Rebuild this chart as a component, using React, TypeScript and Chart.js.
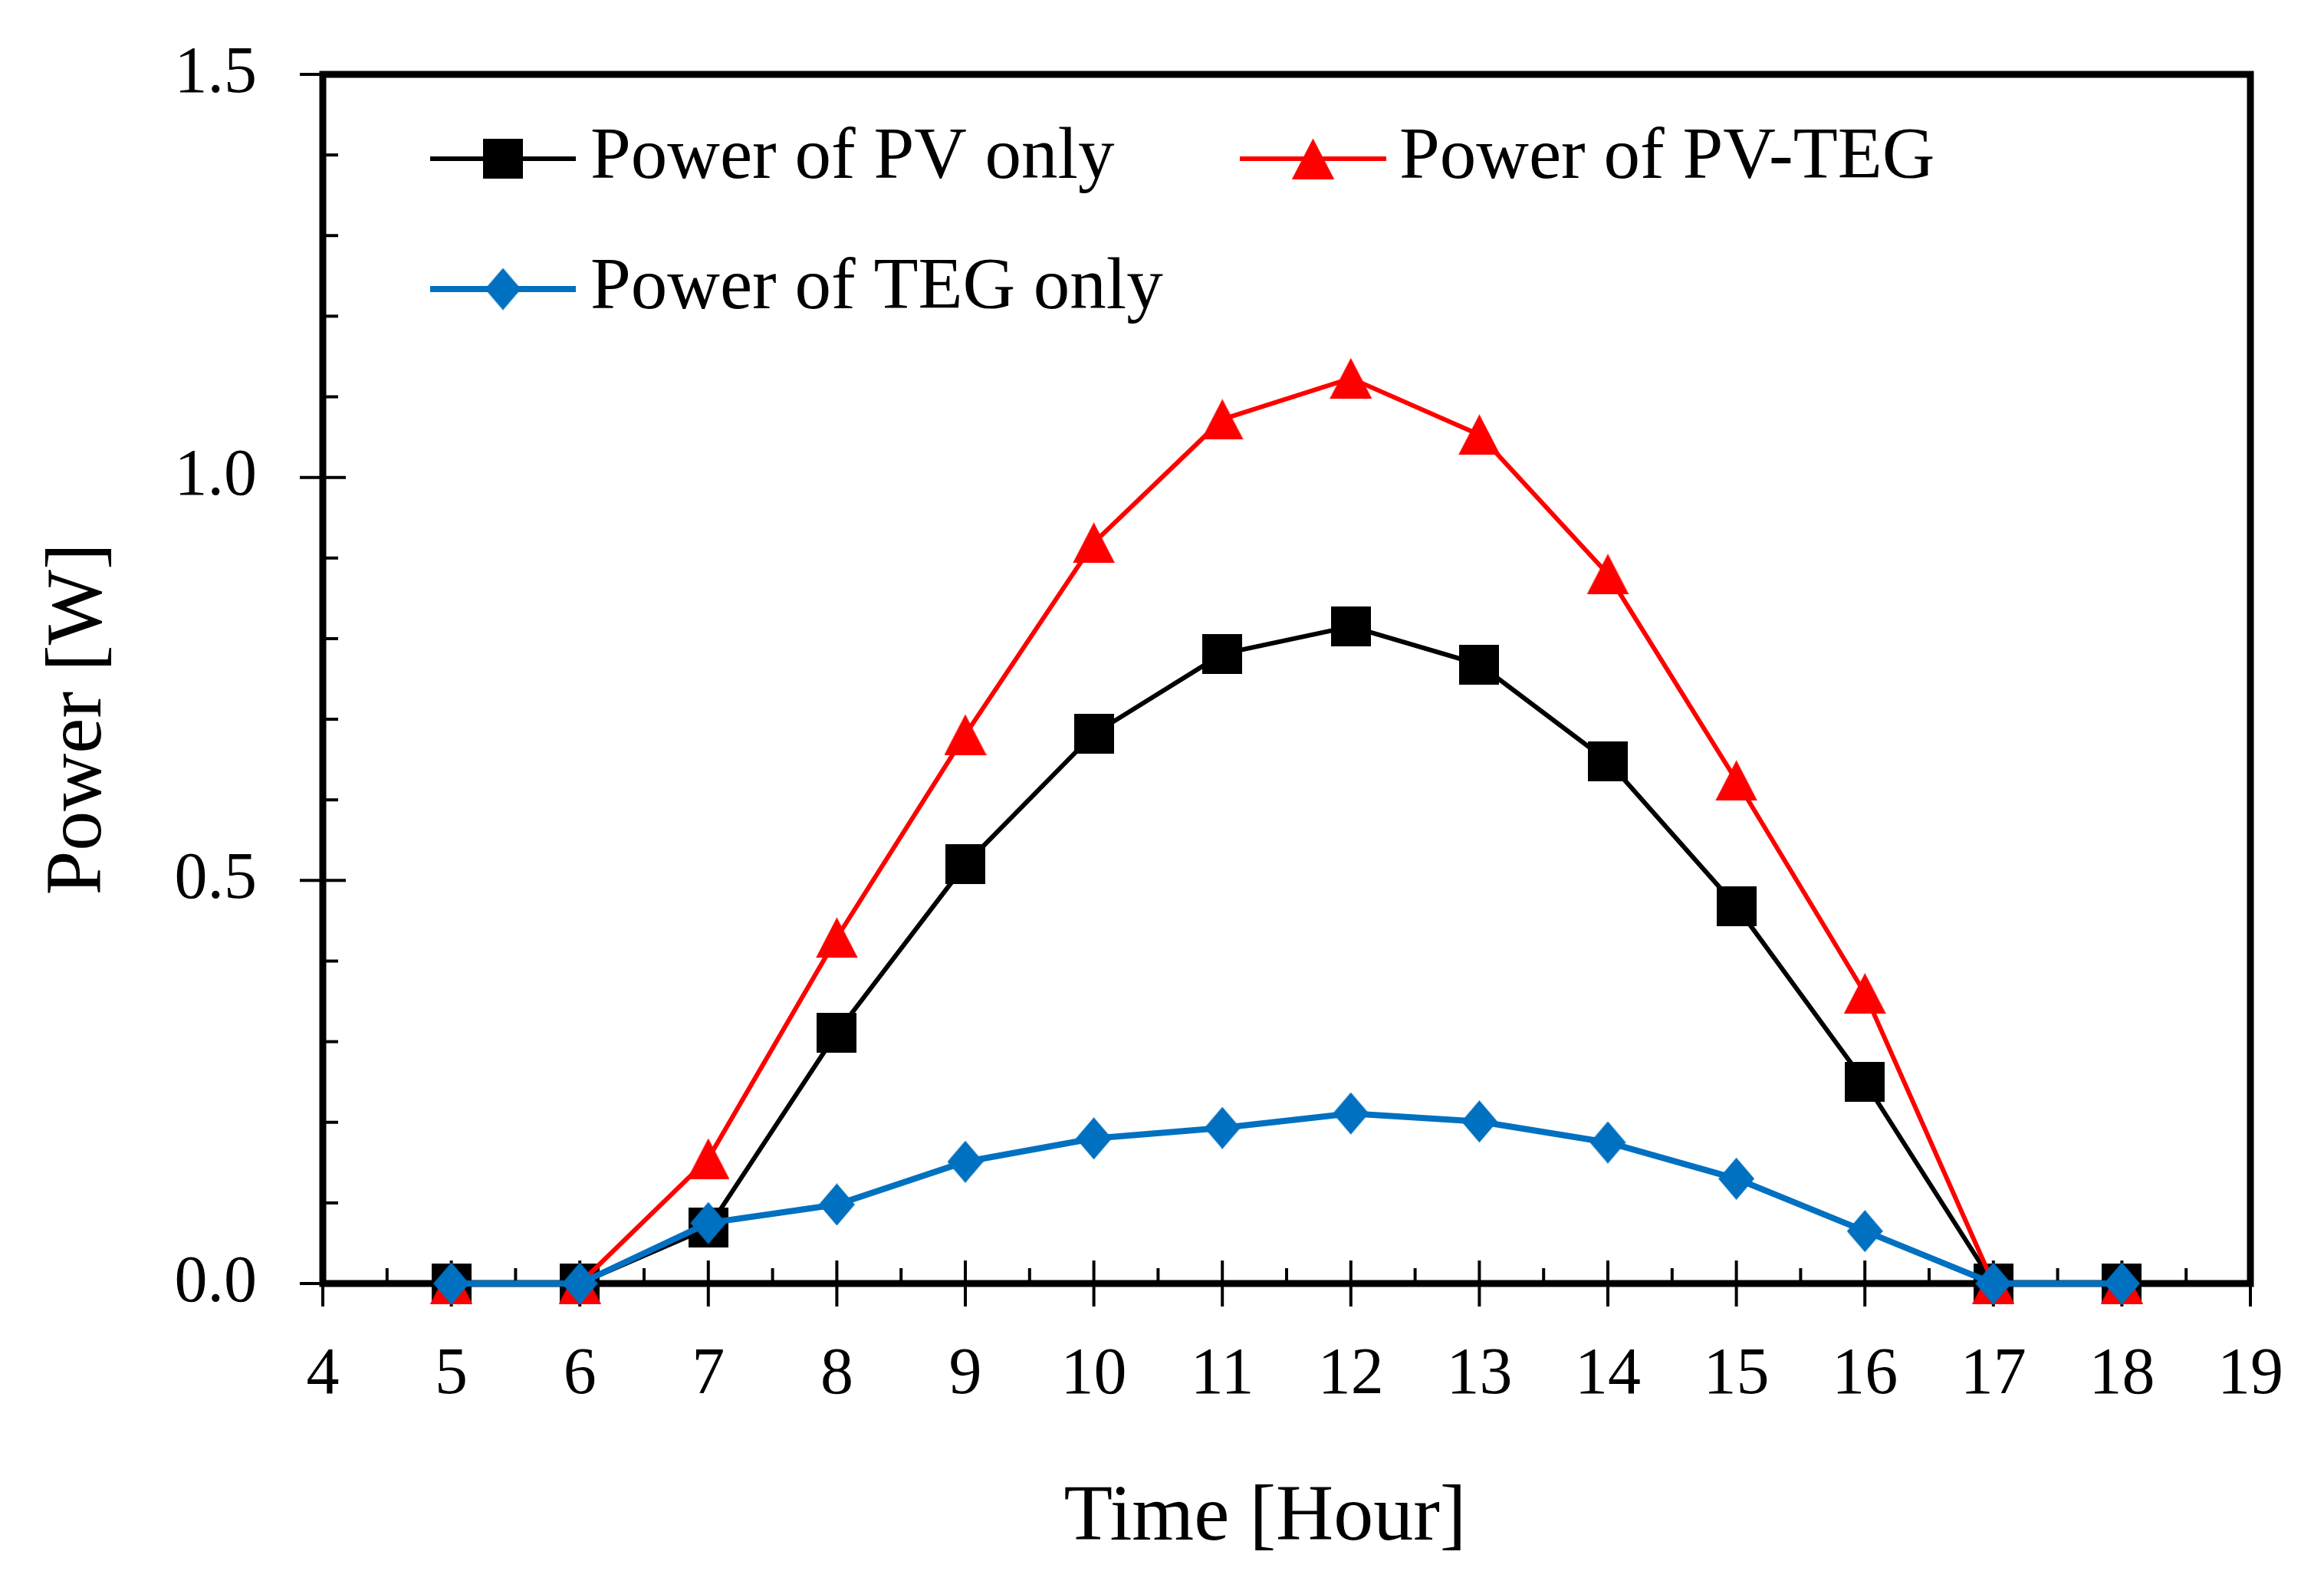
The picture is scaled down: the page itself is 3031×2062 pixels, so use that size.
import React, { useEffect, useRef } from 'react';
import { Chart, registerables } from 'chart.js';

Chart.register(...registerables);

// ---- data ----
const hours = [5, 6, 7, 8, 9, 10, 11, 12, 13, 14, 15, 16, 17, 18];
const pvOnly = [0, 0, 0.069, 0.311, 0.52, 0.682, 0.781, 0.815, 0.768, 0.648, 0.468, 0.25, 0, 0];
const pvTeg = [0, 0, 0.155, 0.429, 0.681, 0.919, 1.072, 1.123, 1.053, 0.88, 0.624, 0.36, 0, 0];
const tegOnly = [0, 0, 0.075, 0.098, 0.151, 0.18, 0.193, 0.211, 0.201, 0.175, 0.13, 0.065, 0, 0];
const xTickLabels = ['4', '5', '6', '7', '8', '9', '10', '11', '12', '13', '14', '15', '16', '17', '18', '19'];
const yTickLabels = ['0.0', '0.5', '1.0', '1.5'];
const seriesNames = ['Power of PV only', 'Power of PV-TEG', 'Power of TEG only'];
const xTitle = 'Time [Hour]';
const yTitle = 'Power [W]';

const FONT = "'Liberation Serif', 'Times New Roman', serif";
const BLACK = '#000000';
const RED = '#FF0000';
const BLUE = '#0070C0';

function makeSquare(size: number, color: string) {
  const c = document.createElement('canvas');
  c.width = size;
  c.height = size;
  const g = c.getContext('2d')!;
  g.fillStyle = color;
  g.fillRect(0, 0, size, size);
  return c;
}
function makeTriangle(w: number, h: number, color: string) {
  const c = document.createElement('canvas');
  c.width = w;
  c.height = h;
  const g = c.getContext('2d')!;
  g.fillStyle = color;
  g.beginPath();
  g.moveTo(w / 2, 0);
  g.lineTo(w, h);
  g.lineTo(0, h);
  g.closePath();
  g.fill();
  return c;
}
function makeDiamond(w: number, h: number, color: string) {
  const c = document.createElement('canvas');
  c.width = w;
  c.height = h;
  const g = c.getContext('2d')!;
  g.fillStyle = color;
  g.beginPath();
  g.moveTo(w / 2, 0);
  g.lineTo(w, h / 2);
  g.lineTo(w / 2, h);
  g.lineTo(0, h / 2);
  g.closePath();
  g.fill();
  return c;
}

const framePlugin = {
  id: 'frameAndLegend',
  beforeDatasetsDraw(chart: any) {
    const { ctx, chartArea } = chart;
    const { left, right, top, bottom } = chartArea;
    const xs = chart.scales.x;
    const ys = chart.scales.y;
    ctx.save();
    ctx.strokeStyle = BLACK;
    ctx.lineWidth = 4;
    for (let i = 0; i <= 30; i++) {
      const v = 4 + i * 0.5;
      const px = xs.getPixelForValue(v);
      const major = i % 2 === 0;
      ctx.beginPath();
      ctx.moveTo(px, major ? bottom + 30 : bottom);
      ctx.lineTo(px, bottom - (major ? 30 : 20));
      ctx.stroke();
    }
    for (let i = 0; i <= 15; i++) {
      const v = i / 10;
      const py = ys.getPixelForValue(v);
      const major = i % 5 === 0;
      ctx.beginPath();
      ctx.moveTo(major ? left - 30 : left, py);
      ctx.lineTo(left + (major ? 30 : 20), py);
      ctx.stroke();
    }
    ctx.lineWidth = 9;
    ctx.strokeRect(left, top, right - left, bottom - top);
    ctx.restore();
  },
  afterDraw(chart: any) {
    const { ctx } = chart;
    ctx.save();
    ctx.fillStyle = BLACK;
    // axis titles
    ctx.font = `104px ${FONT}`;
    ctx.textAlign = 'center';
    ctx.textBaseline = 'alphabetic';
    ctx.fillText(xTitle, 1650, 2008);
    ctx.save();
    ctx.translate(131, 938);
    ctx.rotate(-Math.PI / 2);
    ctx.fillText(yTitle, 0, 0);
    ctx.restore();

    // legend
    const slots = [
      { x0: 561, x1: 751, y: 207, tx: 770, ty: 232 },
      { x0: 1617, x1: 1808, y: 207, tx: 1825, ty: 232 },
      { x0: 561, x1: 751, y: 377, tx: 770, ty: 402 },
    ];
    const ds = chart.data.datasets;
    ctx.font = `95px ${FONT}`;
    ctx.textAlign = 'left';
    slots.forEach((s, i) => {
      const d = ds[i];
      ctx.strokeStyle = d.borderColor;
      ctx.lineWidth = d.borderWidth;
      ctx.beginPath();
      ctx.moveTo(s.x0, s.y);
      ctx.lineTo(s.x1, s.y);
      ctx.stroke();
      const img = d.pointStyle as HTMLCanvasElement;
      const cx = (s.x0 + s.x1) / 2;
      ctx.drawImage(img, cx - img.width / 2, s.y - img.height / 2);
      ctx.fillStyle = BLACK;
      ctx.fillText(seriesNames[i], s.tx, s.ty);
    });
    ctx.restore();
  },
};

export default function App() {
  const ref = useRef<HTMLCanvasElement | null>(null);
  useEffect(() => {
    if (!ref.current) return;
    const sq = makeSquare(52, BLACK);
    const tri = makeTriangle(55, 53, RED);
    const dia = makeDiamond(47, 55, BLUE);
    const toPts = (arr: number[]) => hours.map((h, i) => ({ x: h, y: arr[i] }));
    const chart = new Chart(ref.current, {
      type: 'line',
      data: {
        datasets: [
          {
            label: seriesNames[0],
            data: toPts(pvOnly),
            borderColor: BLACK,
            backgroundColor: BLACK,
            borderWidth: 6,
            pointStyle: sq as any,
            pointRadius: 28,
            pointHoverRadius: 28,
            tension: 0,
            clip: false as any,
            order: 3,
          },
          {
            label: seriesNames[1],
            data: toPts(pvTeg),
            borderColor: RED,
            backgroundColor: RED,
            borderWidth: 6,
            pointStyle: tri as any,
            pointRadius: 28,
            pointHoverRadius: 28,
            tension: 0,
            clip: false as any,
            order: 2,
          },
          {
            label: seriesNames[2],
            data: toPts(tegOnly),
            borderColor: BLUE,
            backgroundColor: BLUE,
            borderWidth: 8,
            pointStyle: dia as any,
            pointRadius: 28,
            pointHoverRadius: 28,
            tension: 0,
            clip: false as any,
            order: 1,
          },
        ],
      },
      options: {
        animation: false,
        responsive: false,
        devicePixelRatio: 1,
        layout: { padding: { top: 97, right: 96, left: 0, bottom: 0 } },
        plugins: {
          legend: { display: false },
          tooltip: { enabled: false },
          title: { display: false },
        },
        scales: {
          x: {
            type: 'linear',
            min: 4,
            max: 19,
            afterFit: (s: any) => {
              s.height = 2062 - 1674;
              s.paddingLeft = 0;
              s.paddingRight = 0;
            },
            grid: { display: false, drawTicks: false },
            border: { display: false },
            ticks: {
              stepSize: 1,
              autoSkip: false,
              maxRotation: 0,
              padding: 69,
              color: BLACK,
              font: { family: FONT, size: 86 },
              callback: (_v: any, i: number) => xTickLabels[i],
            },
          },
          y: {
            type: 'linear',
            min: 0,
            max: 1.5,
            afterFit: (s: any) => {
              s.width = 421;
              s.paddingTop = 0;
              s.paddingBottom = 0;
            },
            grid: { display: false, drawTicks: false },
            border: { display: false },
            ticks: {
              stepSize: 0.5,
              autoSkip: false,
              padding: 86,
              color: BLACK,
              font: { family: FONT, size: 86 },
              callback: (_v: any, i: number) => yTickLabels[i],
            },
          },
        },
      },
      plugins: [framePlugin],
    });
    return () => chart.destroy();
  }, []);
  return (
    <div style={{ position: 'absolute', left: 0, top: 0, width: 3031, height: 2062, background: '#fff' }}>
      <canvas ref={ref} width={3031} height={2062} style={{ display: 'block', width: 3031, height: 2062 }} />
    </div>
  );
}
